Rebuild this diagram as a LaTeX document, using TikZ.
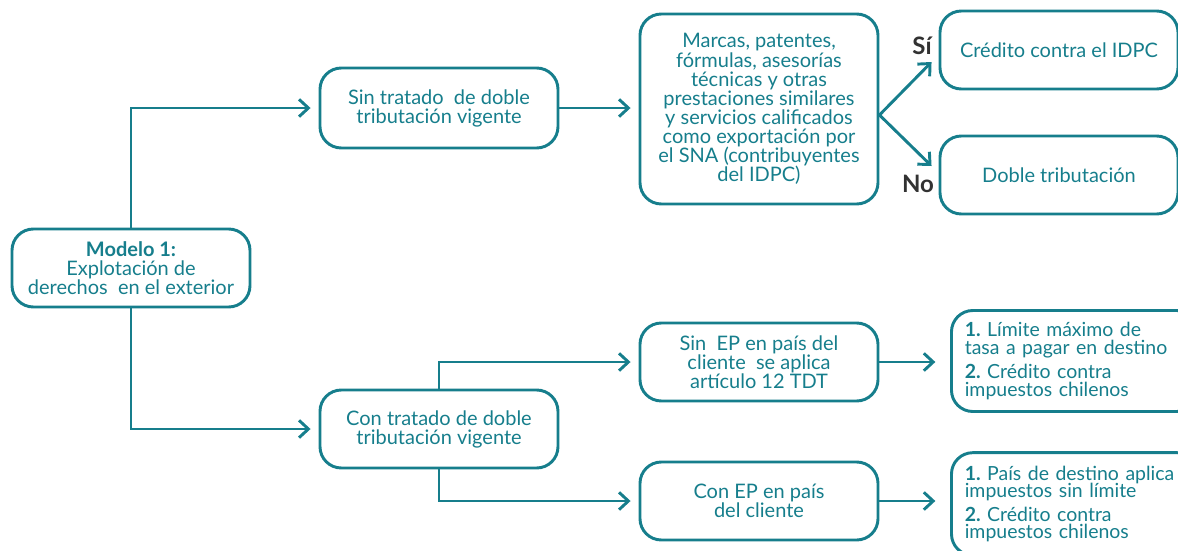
\documentclass[tikz,border=0pt]{standalone}
\usepackage{fontspec}
\setmainfont{Lato}
\usetikzlibrary{arrows.meta,calc}
\definecolor{tealc}{RGB}{22,126,140}
\definecolor{lblgray}{RGB}{50,50,50}
\begin{document}
\frenchspacing
\begin{tikzpicture}[x=0.75pt,y=-0.75pt,
  box/.style={draw=tealc, line width=2.2pt, rounded corners=16pt,
    minimum width=178.5pt, minimum height=58.5pt, align=center, text=tealc,
    inner sep=2pt, font=\fontsize{15}{14.3}\selectfont},
  listbox/.style={box, align=left, text width=165pt, inner xsep=10pt,
    font=\fontsize{14.6}{13.4}\selectfont},
  conn/.style={draw=tealc, line width=2.2pt, shorten >=6pt,
    -{Straight Barb[length=7pt,width=13pt]}},
  lbl/.style={text=lblgray, font=\fontsize{18}{18}\selectfont\bfseries, inner sep=0pt}]
\clip (0,0) rectangle (1178,550);

\node[box] (m) at (131,268) {\textbf{Modelo 1:}\\Explotación de\\derechos\ \ en el exterior};
\node[box, minimum height=60pt] (sin) at (439,108) {Sin tratado\ \ de doble\\tributación vigente};
\node[box] (con) at (439,429) {Con tratado de doble\\tributación vigente};
\node[box, minimum height=142.5pt] (marcas) at (759,109) {Marcas, patentes,\\fórmulas, asesorías\\técnicas y otras\\prestaciones similares\\y servicios calificados\\como exportación por\\el SNA (contribuyentes\\del IDPC)};
\node[box] (cred) at (1059,50) {Crédito contra el IDPC};
\node[box] (doble) at (1059,175) {Doble tributación};
\node[box] (sinep) at (759,362) {Sin\ \ EP en país del\\cliente\ \ se aplica\\artículo 12 TDT};
\node[box] (conep) at (759,501) {Con EP en país\\del cliente};
\node[listbox, anchor=west, minimum height=75.75pt] (r1) at (950,361)
  {\textbf{1.} Límite máximo de\\tasa a pagar en destino\\[4pt]\textbf{2.} Crédito contra\\impuestos chilenos};
\node[listbox, anchor=west, minimum height=77pt] (r2) at (950,504)
  {\textbf{1.} País de destino aplica\\impuestos sin límite\\[4pt]\textbf{2.} Crédito contra\\impuestos chilenos};

\node[lbl] (si) at (922,46) {Sí};
\node[lbl] (no) at (918,184) {No};

\draw[conn] (m.north) |- (sin.west);
\draw[conn] (m.south) |- (con.west);
\draw[conn] (sin.east) -- (sin.east -| marcas.west);
\coordinate (fork) at ($(marcas.east)+(0,6)$);
\draw[conn, shorten >=0pt] (fork) -- ($(cred.west)+(-7,12)$);
\draw[conn, shorten >=0pt] (fork) -- ($(doble.west)+(-7,-9)$);
\draw[conn] (con.north) |- (sinep.west);
\draw[conn] (con.south) |- (conep.west);
\draw[conn, shorten >=11pt] (sinep.east) -- (sinep.east -| r1.west);
\draw[conn, shorten >=11pt] (conep.east) -- (conep.east -| r2.west);
\end{tikzpicture}
\end{document}
